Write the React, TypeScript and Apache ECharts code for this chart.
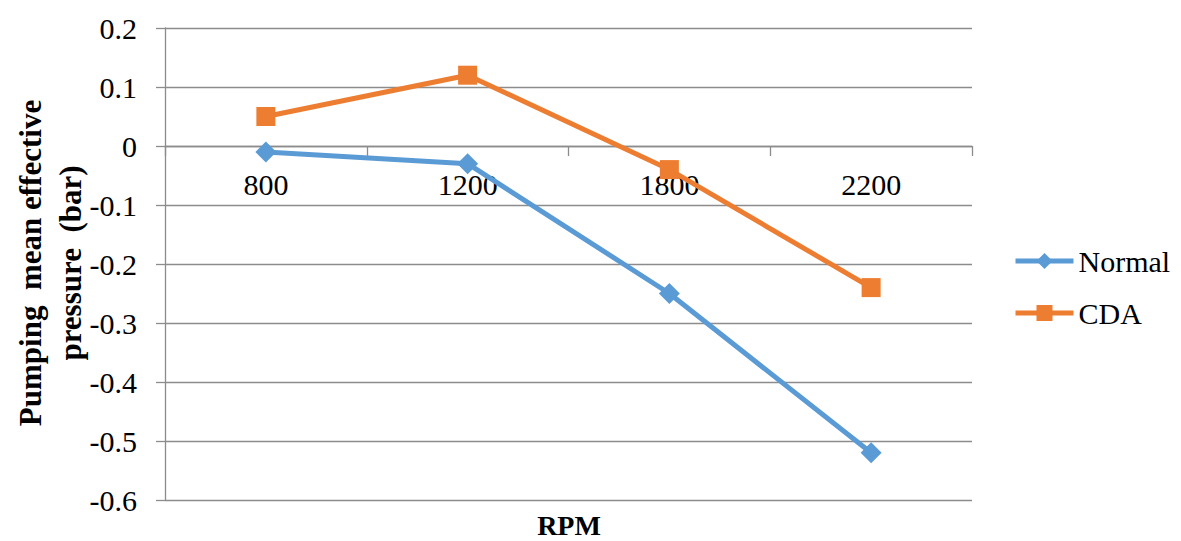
import React, { useEffect, useRef } from "react";
import * as echarts from "echarts";

const rpm = ["800", "1200", "1800", "2200"];
const normal = [-0.01, -0.03, -0.25, -0.52];
const cda = [0.05, 0.12, -0.04, -0.24];

const FONT = "Liberation Serif";
const GRID = "#8c8c8c";

// Plot box
const GRID_TOP = 28;
const GRID_BOTTOM = 41;
const CHART_H = 541;
const Y_MIN = -0.6;
const Y_MAX = 0.2;

export default function App() {
  const ref = useRef<HTMLDivElement>(null);

  useEffect(() => {
    if (!ref.current) return;
    const chart = echarts.init(ref.current, undefined, { renderer: "svg" });
    // distance from the plot bottom up to the zero line, so the category axis sits on y = 0
    const plotH = CHART_H - GRID_TOP - GRID_BOTTOM;
    const zeroOffset = (plotH * (0 - Y_MIN)) / (Y_MAX - Y_MIN);
    chart.setOption({
      animation: false,
      backgroundColor: "#ffffff",
      textStyle: { fontFamily: FONT },
      grid: {
        left: 165,
        right: 209,
        top: GRID_TOP,
        bottom: GRID_BOTTOM,
        containLabel: false,
        outerBoundsMode: "none",
      },
      legend: {
        orient: "vertical",
        left: 1008,
        top: 241,
        itemWidth: 58,
        itemHeight: 20,
        itemGap: 22,
        lineStyle: { width: 5 },
        textStyle: { fontFamily: FONT, fontSize: 30, color: "#000" },
        data: ["Normal", "CDA"],
      },
      xAxis: {
        type: "category",
        data: rpm,
        boundaryGap: true,
        offset: -zeroOffset,
        axisLine: { onZero: false, lineStyle: { color: GRID, width: 1.3 } },
        axisTick: { show: true, length: 10, lineStyle: { color: GRID, width: 1.3 } },
        axisLabel: { fontFamily: FONT, fontSize: 30, color: "#000", margin: 23 },
        splitLine: { show: false },
      },
      yAxis: {
        type: "value",
        min: Y_MIN,
        max: Y_MAX,
        interval: 0.1,
        axisLine: { show: true, lineStyle: { color: GRID, width: 1.3 } },
        axisTick: { show: true, length: 9, lineStyle: { color: GRID, width: 1.3 } },
        axisLabel: {
          fontFamily: FONT,
          fontSize: 30,
          color: "#000",
          margin: 28,
          formatter: (v: number) => String(Math.round(v * 10) / 10),
        },
        splitLine: { show: true, lineStyle: { color: GRID, width: 1.3 } },
      },
      series: [
        {
          name: "Normal",
          type: "line",
          data: normal,
          symbol: "diamond",
          symbolSize: 21,
          itemStyle: { color: "#5b9bd5" },
          lineStyle: { color: "#5b9bd5", width: 5 },
          z: 2,
        },
        {
          name: "CDA",
          type: "line",
          data: cda,
          symbol: "rect",
          symbolSize: 19,
          itemStyle: { color: "#ed7d31" },
          lineStyle: { color: "#ed7d31", width: 5 },
          z: 3,
        },
      ],
      graphic: [
        {
          type: "text",
          x: 569,
          y: 525,
          style: {
            text: "RPM",
            font: `bold 28px ${FONT}`,
            fill: "#000",
            textAlign: "center",
            textVerticalAlign: "middle",
          },
        },
        {
          type: "text",
          x: 30,
          y: 263,
          rotation: Math.PI / 2,
          style: {
            text: "Pumping  mean effective",
            font: `bold 31px ${FONT}`,
            fill: "#000",
            textAlign: "center",
            textVerticalAlign: "middle",
          },
        },
        {
          type: "text",
          x: 70,
          y: 263,
          rotation: Math.PI / 2,
          style: {
            text: "pressure  (bar)",
            font: `bold 31px ${FONT}`,
            fill: "#000",
            textAlign: "center",
            textVerticalAlign: "middle",
          },
        },
      ],
    });
    return () => chart.dispose();
  }, []);

  return (
    <div
      ref={ref}
      style={{ position: "fixed", left: 0, top: 0, width: 1181, height: 541, background: "#fff" }}
    />
  );
}
